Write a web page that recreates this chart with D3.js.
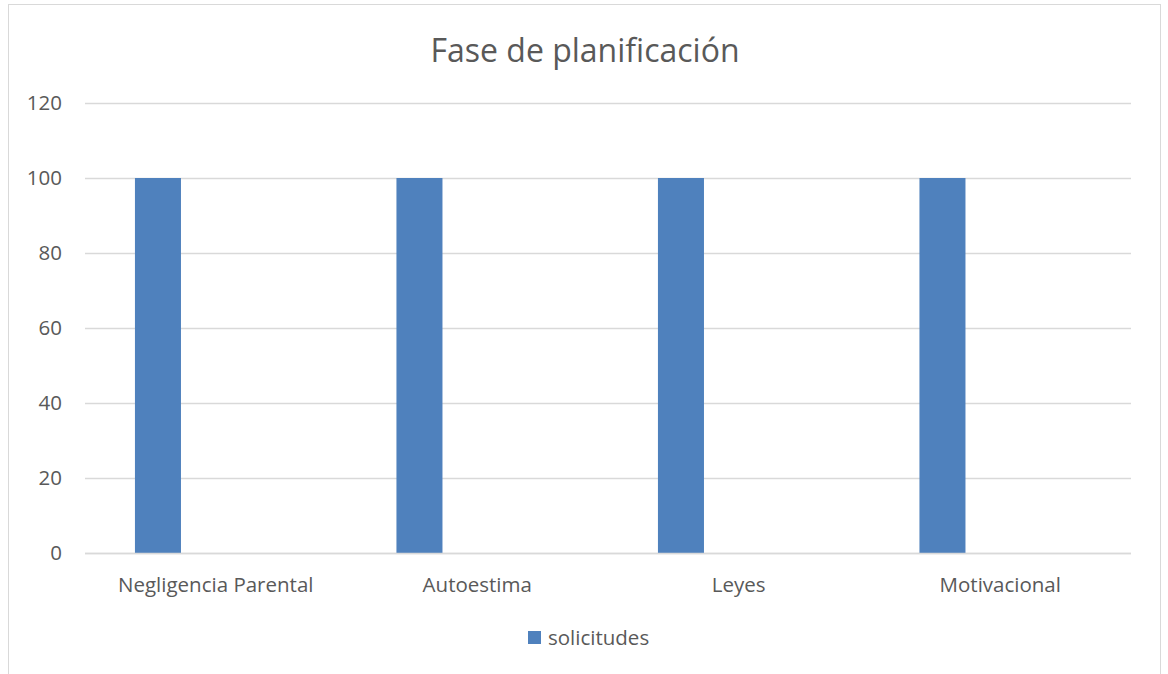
<!DOCTYPE html>
<html>
<head>
<meta charset="utf-8">
<script src="https://cdn.jsdelivr.net/npm/d3@7"></script>
<style>
body { margin: 0; background: #fff; }
text { font-family: "Open Sans", Arial, sans-serif; fill: #595959; }
</style>
</head>
<body>
<div id="chart"></div>
<script>
// data
var categories = ["Negligencia Parental", "Autoestima", "Leyes", "Motivacional"];
var solicitudes = [100, 100, 100, 100];
var yTicks = [0, 20, 40, 60, 80, 100, 120];
var seriesName = "solicitudes";
var title = "Fase de planificación";

var W = 1168, H = 674;
var margin = {top: 103, right: 37, bottom: 121, left: 85};
var iw = W - margin.left - margin.right,
    ih = H - margin.top - margin.bottom;

var svg = d3.select("#chart").append("svg")
  .attr("width", W).attr("height", H);

// chart frame
svg.append("rect")
  .attr("x", 8.5).attr("y", 4.5)
  .attr("width", 1152).attr("height", 680)
  .attr("fill", "#fff").attr("stroke", "#d9d9d9");

svg.append("text")
  .attr("x", 585).attr("y", 62)
  .attr("text-anchor", "middle")
  .style("font-size", "32px")
  .text(title);

var g = svg.append("g")
  .attr("transform", "translate(" + margin.left + "," + margin.top + ")");

var x = d3.scaleBand().domain(categories).range([0, iw]).padding(0);
var y = d3.scaleLinear().domain([0, 120]).range([ih, 0]);

// gridlines
g.selectAll("line.grid").data(yTicks).enter().append("line")
  .attr("class", "grid")
  .attr("x1", 0).attr("x2", iw)
  .attr("y1", function(d) { return Math.round(y(d)) + 0.5; })
  .attr("y2", function(d) { return Math.round(y(d)) + 0.5; })
  .attr("stroke", "#d9d9d9").attr("stroke-width", 1.5);

// y labels
g.selectAll("text.ytick").data(yTicks).enter().append("text")
  .attr("class", "ytick")
  .attr("x", -23)
  .attr("y", function(d) { return y(d); })
  .attr("dy", "0.35em")
  .attr("text-anchor", "end")
  .style("font-size", "20.5px")
  .text(function(d) { return d; });

// bars sit left in their band (clustered slot)
var barOff = x.bandwidth() * 0.191, barW = x.bandwidth() * 0.176;
g.selectAll("rect.bar").data(solicitudes).enter().append("rect")
  .attr("class", "bar")
  .attr("x", function(d, i) { return x(categories[i]) + barOff; })
  .attr("width", barW)
  .attr("y", function(d) { return y(d); })
  .attr("height", function(d) { return y(0) - y(d); })
  .attr("fill", "#4f81bd");

// baseline
g.append("line")
  .attr("x1", 0).attr("x2", iw)
  .attr("y1", Math.round(y(0)) + 0.5).attr("y2", Math.round(y(0)) + 0.5)
  .attr("stroke", "#d9d9d9").attr("stroke-width", 1.5);

// x labels
g.selectAll("text.xtick").data(categories).enter().append("text")
  .attr("class", "xtick")
  .attr("x", function(d) { return x(d) + x.bandwidth() / 2; })
  .attr("y", ih + 32)
  .attr("dy", "0.35em")
  .attr("text-anchor", "middle")
  .style("font-size", "20.5px")
  .text(function(d) { return d; });

// legend
var lg = svg.append("g").attr("transform", "translate(528,631)");
lg.append("rect").attr("width", 13).attr("height", 13).attr("fill", "#4f81bd");
lg.append("text").attr("x", 20).attr("y", 6.5).attr("dy", "0.35em")
  .style("font-size", "20.5px").text(seriesName);
</script>
</body>
</html>
